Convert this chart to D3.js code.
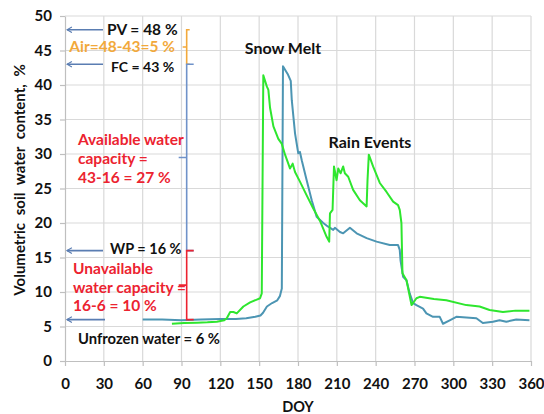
<!DOCTYPE html>
<html>
<head>
<meta charset="utf-8">
<script src="https://cdn.jsdelivr.net/npm/d3@7"></script>
<style>
  html, body { margin: 0; padding: 0; background: #fff; }
  svg text { font-family: Lato, "Open Sans", sans-serif; font-weight: bold; }
</style>
</head>
<body>
<svg id="chart" width="544" height="414"></svg>
<script>
// Soil water content through the year (day of year, volumetric %)
const sensor1Doy = [60, 75, 90, 105, 120, 132, 140, 147, 151, 153, 156, 160, 164, 166, 167.5, 168.4, 170, 172, 174.4, 175.2, 177.7, 180.2, 181.5, 182.9, 186.7, 190.6, 194.4, 199.5, 203, 207.2, 208.5, 212.4, 214.9, 220.1, 225.3, 233, 240.7, 250.9, 257.3, 258.6, 259.2, 261.2, 263.8, 266.3, 268.9, 271.5, 276.6, 279.2, 284.3, 289.5, 292, 297.2, 302.3, 310, 317.8, 322.8, 330.6, 335.7, 340.9, 348.6, 358.8];
const sensor1Vwc = [6.0, 6.0, 5.9, 6.0, 6.1, 6.1, 6.2, 6.4, 6.6, 7.0, 7.9, 8.4, 8.8, 9.4, 10.5, 42.7, 42.2, 41.6, 40.6, 37.8, 33.0, 30.1, 30.3, 29.1, 26.2, 23.3, 20.9, 20.0, 19.5, 19.0, 19.3, 18.7, 18.5, 19.3, 18.5, 17.8, 17.3, 16.8, 16.8, 16.1, 14.6, 12.2, 11.7, 9.8, 8.4, 8.1, 7.6, 6.9, 6.4, 6.4, 5.4, 5.9, 6.4, 6.3, 6.2, 5.5, 5.7, 5.9, 5.7, 6.0, 5.9];

const sensor2Doy = [82.6, 92, 101.9, 110, 117.3, 123, 125, 127.6, 130.1, 132.7, 137.8, 143, 148.2, 150.7, 152, 153.2, 155.9, 157.1, 158.4, 161, 164.8, 167.4, 170, 172.5, 173.8, 175.9, 177.7, 181.5, 186.7, 191.8, 197, 202.1, 204.1, 204.7, 206.7, 207.8, 209.8, 211.1, 212.9, 214.9, 216.2, 218.8, 222.6, 227.8, 233, 233.7, 234.7, 238, 243.2, 248.4, 253.5, 257.3, 258.6, 259.9, 260.7, 263.8, 267.7, 271.5, 274.1, 285, 294.6, 310, 320.3, 328, 338.3, 348, 358.8];
const sensor2Vwc = [5.4, 5.5, 5.55, 5.6, 5.7, 5.9, 6.2, 7.1, 7.1, 6.9, 7.9, 8.5, 8.9, 9.1, 9.8, 41.4, 39.8, 39.3, 36.7, 34.0, 32.2, 31.5, 29.9, 28.6, 27.9, 28.6, 27.4, 26.0, 24.0, 22.1, 20.3, 18.0, 17.3, 21.4, 21.9, 28.2, 26.2, 27.9, 27.2, 28.2, 27.2, 26.7, 24.8, 23.3, 22.4, 26.2, 29.9, 28.2, 25.8, 24.5, 23.1, 22.6, 21.9, 20.0, 12.7, 11.7, 8.1, 9.1, 9.3, 9.0, 8.8, 8.1, 7.9, 7.4, 7.1, 7.3, 7.3];

const xTicks = [0, 30, 60, 90, 120, 150, 180, 210, 240, 270, 300, 330, 360];
const yTicks = [0, 5, 10, 15, 20, 25, 30, 35, 40, 45, 50];

// Soil water thresholds
const porosity = 48;       // PV
const fieldCapacity = 43;  // FC
const wiltingPoint = 16;   // WP
const unfrozenWater = 6;
const bracketDoy = 94;

const svg = d3.select("#chart");
const m = { left: 65, right: 531, top: 16, bottom: 361 };

const x = d3.scaleLinear().domain([0, 360]).range([m.left, m.right]);
const y = d3.scaleLinear().domain([0, 50]).range([m.bottom, m.top]);

// grid
const grid = svg.append("g");
grid.selectAll(".vg").data(xTicks.slice(1)).join("line")
  .attr("x1", d => x(d)).attr("x2", d => x(d))
  .attr("y1", m.top).attr("y2", m.bottom)
  .attr("stroke", "#d9d9d9").attr("stroke-width", 1.2);
grid.selectAll(".hg").data(yTicks.slice(1)).join("line")
  .attr("x1", m.left).attr("x2", m.right)
  .attr("y1", d => y(d)).attr("y2", d => y(d))
  .attr("stroke", "#d9d9d9").attr("stroke-width", 1.2);

// axes
const xAxis = svg.append("g")
  .attr("transform", `translate(0,${m.bottom})`)
  .call(d3.axisBottom(x).tickValues(xTicks).tickSize(5).tickPadding(12).tickSizeOuter(0));
const yAxis = svg.append("g")
  .attr("transform", `translate(${m.left},0)`)
  .call(d3.axisLeft(y).tickValues(yTicks).tickSize(5).tickPadding(8).tickSizeOuter(0));
[xAxis, yAxis].forEach(a => {
  a.select(".domain").attr("stroke", "#bfbfbf").attr("stroke-width", 1.2);
  a.selectAll(".tick line").attr("stroke", "#bfbfbf").attr("stroke-width", 1.2);
  a.selectAll(".tick text").attr("fill", "#111").style("font-size", "15px")
    .style("font-family", "Lato, sans-serif").style("font-weight", "bold");
});

// series
const line = d3.line().x(d => x(d[0])).y(d => y(d[1]));
svg.append("path")
  .datum(d3.zip(sensor1Doy, sensor1Vwc))
  .attr("d", line).attr("fill", "none")
  .attr("stroke", "#4c95b3").attr("stroke-width", 2).attr("stroke-linejoin", "round");
svg.append("path")
  .datum(d3.zip(sensor2Doy, sensor2Vwc))
  .attr("d", line).attr("fill", "none")
  .attr("stroke", "#2ee62e").attr("stroke-width", 2).attr("stroke-linejoin", "round");

// curly brace opening to the left
function brace(top, bottom, armRight, armLeft, color) {
  const bx = x(bracketDoy), t = y(top), b = y(bottom), mid = (t + b) / 2;
  const p = d3.path();
  p.moveTo(bx + armRight, t);
  p.lineTo(bx, t);
  p.lineTo(bx, mid);
  p.lineTo(bx - armLeft, mid);
  p.moveTo(bx, mid);
  p.lineTo(bx, b);
  p.lineTo(bx + armRight, b);
  svg.append("path").attr("d", p.toString()).attr("fill", "none")
    .attr("stroke", color).attr("stroke-width", 1.6);
  return mid;
}
const airMid = brace(porosity, fieldCapacity, 3, 4, "#f2a93b");
const awcMid = brace(fieldCapacity, wiltingPoint, 7, 8, "#6f92c9");
const uwcMid = brace(wiltingPoint, unfrozenWater, 7, 8, "#ec2330");

// arrows pointing at the y axis
svg.append("defs").append("marker")
  .attr("id", "head").attr("viewBox", "0 0 10 10")
  .attr("refX", 9).attr("refY", 5)
  .attr("markerWidth", 7).attr("markerHeight", 7).attr("orient", "auto")
  .attr("markerUnits", "userSpaceOnUse")
  .append("path").attr("d", "M2,1 L9,5 L2,9").attr("fill", "none")
  .attr("stroke", "#5a7db2").attr("stroke-width", 1.6);
function arrow(v, x2) {
  svg.append("line")
    .attr("x1", x2).attr("x2", 67).attr("y1", y(v)).attr("y2", y(v))
    .attr("stroke", "#5a7db2").attr("stroke-width", 1.6)
    .attr("marker-end", "url(#head)");
}
arrow(porosity, 103);
arrow(fieldCapacity, 103);
arrow(wiltingPoint, 103);
arrow(unfrozenWater, 105);

// annotations
function label(txt, xp, yc, anchor, color, size) {
  svg.append("text").attr("x", xp).attr("y", yc).attr("dy", "0.35em")
    .attr("text-anchor", anchor).attr("fill", color)
    .style("font-size", (size || 15.5) + "px").text(txt);
}
label("PV = 48 %", 107, y(porosity), "start", "#111");
label("Air=48-43=5 %", 175, airMid, "end", "#f2a93b");
label("FC = 43 %", 111, y(fieldCapacity) + 3, "start", "#111", 14);
label("Available water", 78, awcMid - 18, "start", "#ec2330");
label("capacity =", 78, awcMid + 1, "start", "#ec2330");
label("43-16 = 27 %", 78, awcMid + 20, "start", "#ec2330");
label("WP = 16 %", 110, y(wiltingPoint) - 2, "start", "#111", 14.5);
label("Unavailable", 73, uwcMid - 17, "start", "#ec2330");
label("water capacity =", 73, uwcMid + 2, "start", "#ec2330");
label("16-6 = 10 %", 73, uwcMid + 20, "start", "#ec2330");
label("Unfrozen water = 6 %", 78, y(unfrozenWater) + 19, "start", "#111", 14.8);
label("Snow Melt", 283, 48, "middle", "#111", 16);
label("Rain Events", 370, 142, "middle", "#111", 16);

// axis titles
svg.append("text").attr("x", 298).attr("y", 407).attr("dy", "0.35em")
  .attr("text-anchor", "middle").attr("fill", "#111").style("font-size", "14.5px").text("DOY");
svg.append("text")
  .attr("transform", "translate(20,180) rotate(-90)")
  .attr("dy", "0.35em").attr("text-anchor", "middle").attr("fill", "#111")
  .style("font-size", "15px").style("word-spacing", "4px")
  .text("Volumetric soil water content, %");
</script>
</body>
</html>
